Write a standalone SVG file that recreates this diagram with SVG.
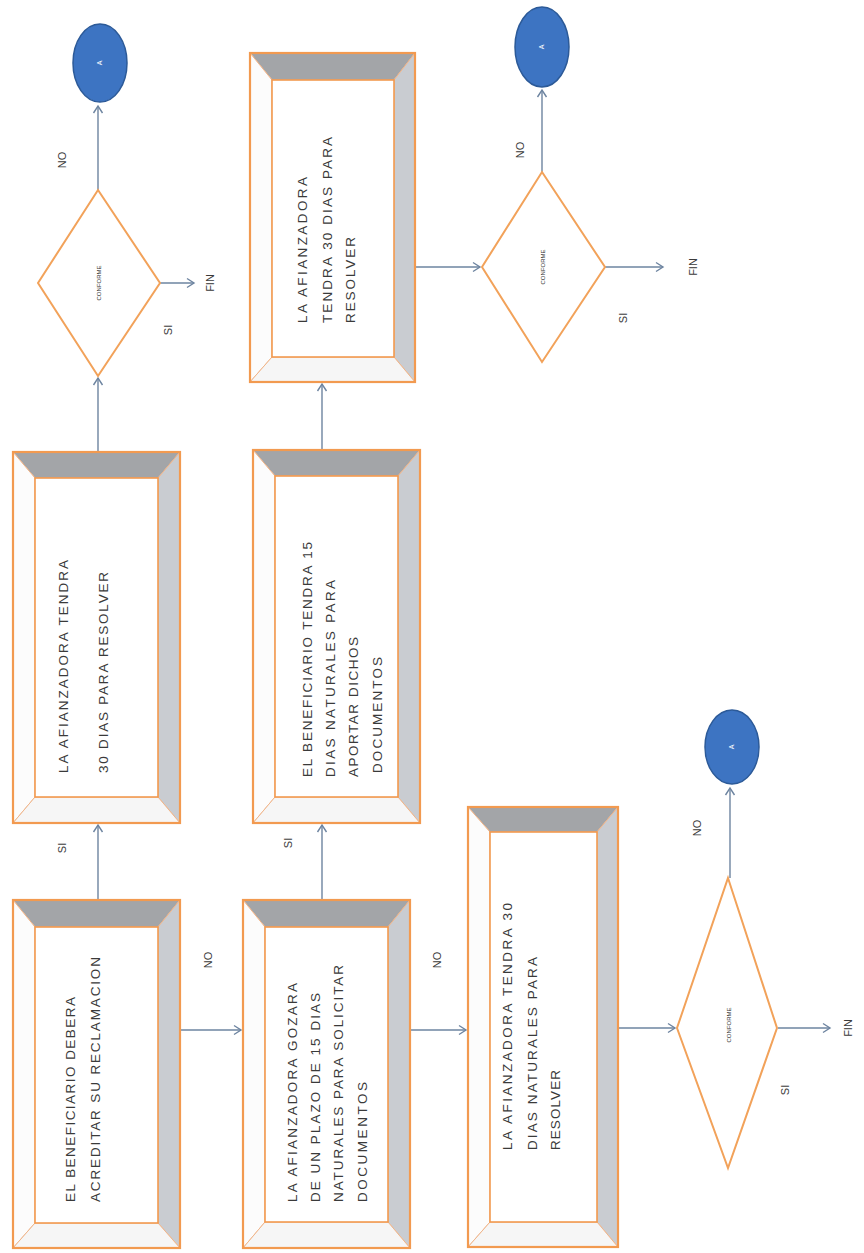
<svg xmlns="http://www.w3.org/2000/svg" width="864" height="1253" viewBox="0 0 864 1253">
<style>
.o{fill:none;stroke:#f29a50;stroke-width:2.2}
.i{fill:#ffffff;stroke:#f29a50;stroke-width:1.6}
.bt{fill:#a3a5a8;stroke:#f0b58a;stroke-width:1}
.br{fill:#c9ccd1;stroke:#f0b58a;stroke-width:1}
.bl{fill:#fcfcfc;stroke:#f0b58a;stroke-width:1}
.bb{fill:#f6f6f6;stroke:#f0b58a;stroke-width:1}
.t{font-family:"Liberation Sans",Arial,sans-serif;font-size:13.5px;fill:#3a3a3a}
.l{font-family:"Liberation Sans",Arial,sans-serif;font-size:11px;fill:#3a3a3a;text-anchor:middle}
.dt{font-family:"Liberation Sans",Arial,sans-serif;font-size:6px;fill:#333;text-anchor:middle}
.ct{font-family:"Liberation Sans",Arial,sans-serif;font-size:7px;fill:#ffffff;text-anchor:middle}
.d{fill:#ffffff;stroke:#f2a25a;stroke-width:2}
.c{fill:#3d74c2;stroke:#2c5a98;stroke-width:1.5}
.e{fill:none;stroke:#6d84a0;stroke-width:1.4}
</style>
<defs>
<marker id="ah" markerWidth="12" markerHeight="12" refX="9" refY="6" orient="auto" markerUnits="userSpaceOnUse">
<path d="M2,1.5 L9,6 L2,10.5" fill="none" stroke="#6d84a0" stroke-width="1.4"/>
</marker>
</defs>
<rect width="864" height="1253" fill="#ffffff"/>

<g id="connectors">
<line class="e" x1="98" y1="900" x2="98" y2="825" marker-end="url(#ah)"/>
<line class="e" x1="98" y1="452" x2="98" y2="378" marker-end="url(#ah)"/>
<line class="e" x1="98" y1="190" x2="98" y2="106" marker-end="url(#ah)"/>
<line class="e" x1="160" y1="283" x2="194" y2="283" marker-end="url(#ah)"/>
<line class="e" x1="180" y1="1030" x2="241" y2="1030" marker-end="url(#ah)"/>
<line class="e" x1="322" y1="900" x2="322" y2="825" marker-end="url(#ah)"/>
<line class="e" x1="322" y1="450" x2="322" y2="384" marker-end="url(#ah)"/>
<line class="e" x1="415" y1="267" x2="480" y2="267" marker-end="url(#ah)"/>
<line class="e" x1="542" y1="172" x2="542" y2="90" marker-end="url(#ah)"/>
<line class="e" x1="605" y1="267" x2="663" y2="267" marker-end="url(#ah)"/>
<line class="e" x1="410" y1="1030" x2="466" y2="1030" marker-end="url(#ah)"/>
<line class="e" x1="618" y1="1028" x2="675" y2="1028" marker-end="url(#ah)"/>
<line class="e" x1="730" y1="878" x2="730" y2="788" marker-end="url(#ah)"/>
<line class="e" x1="778" y1="1028" x2="830" y2="1028" marker-end="url(#ah)"/>
<text class="l" transform="translate(66,848) rotate(-90)">SI</text>
<text class="l" transform="translate(212,960) rotate(-90)">NO</text>
<text class="l" transform="translate(292,843) rotate(-90)">SI</text>
<text class="l" transform="translate(441,960) rotate(-90)">NO</text>
<text class="l" transform="translate(66,160) rotate(-90)">NO</text>
<text class="l" transform="translate(214,283) rotate(-90)">FIN</text>
<text class="l" transform="translate(172,330) rotate(-90)">SI</text>
<text class="l" transform="translate(524,150) rotate(-90)">NO</text>
<text class="l" transform="translate(697,267) rotate(-90)">FIN</text>
<text class="l" transform="translate(627,318) rotate(-90)">SI</text>
<text class="l" transform="translate(701,828) rotate(-90)">NO</text>
<text class="l" transform="translate(852,1028) rotate(-90)">FIN</text>
<text class="l" transform="translate(789,1090) rotate(-90)">SI</text>
</g>

<g id="box1">
<polygon class="bt" points="13,900 180,900 158,927 35,927"/>
<polygon class="br" points="180,900 180,1248 158,1223 158,927"/>
<polygon class="bl" points="13,900 35,927 35,1223 13,1248"/>
<polygon class="bb" points="13,1248 35,1223 158,1223 180,1248"/>
<rect class="i" x="35" y="927" width="123" height="296"/>
<rect class="o" x="13" y="900" width="167" height="348"/>
<text class="t" transform="translate(75,1202) rotate(-90)" textLength="205">EL BENEFICIARIO DEBERA</text>
<text class="t" transform="translate(100,1202) rotate(-90)" textLength="245">ACREDITAR  SU RECLAMACION</text>
</g>

<g id="box2">
<polygon class="bt" points="243,900 410,900 388,927 265,927"/>
<polygon class="br" points="410,900 410,1248 388,1222 388,927"/>
<polygon class="bl" points="243,900 265,927 265,1222 243,1248"/>
<polygon class="bb" points="243,1248 265,1222 388,1222 410,1248"/>
<rect class="i" x="265" y="927" width="123" height="295"/>
<rect class="o" x="243" y="900" width="167" height="348"/>
<text class="t" transform="translate(297,1202) rotate(-90)" textLength="219">LA AFIANZADORA GOZARA</text>
<text class="t" transform="translate(320,1202) rotate(-90)" textLength="209">DE UN PLAZO DE 15 DIAS</text>
<text class="t" transform="translate(343,1202) rotate(-90)" textLength="237">NATURALES  PARA SOLICITAR</text>
<text class="t" transform="translate(367,1202) rotate(-90)" textLength="120">DOCUMENTOS</text>
</g>

<g id="box3">
<polygon class="bt" points="468,807 618,807 597,832 490,832"/>
<polygon class="br" points="618,807 618,1247 597,1222 597,832"/>
<polygon class="bl" points="468,807 490,832 490,1222 468,1247"/>
<polygon class="bb" points="468,1247 490,1222 597,1222 618,1247"/>
<rect class="i" x="490" y="832" width="107" height="390"/>
<rect class="o" x="468" y="807" width="150" height="440"/>
<text class="t" transform="translate(512,1150) rotate(-90)" textLength="247">LA AFIANZADORA TENDRA 30</text>
<text class="t" transform="translate(537,1150) rotate(-90)" textLength="193">DIAS NATURALES  PARA</text>
<text class="t" transform="translate(560,1150) rotate(-90)" textLength="80">RESOLVER</text>
</g>

<g id="box4">
<polygon class="bt" points="13,452 180,452 158,478 35,478"/>
<polygon class="br" points="180,452 180,823 158,797 158,478"/>
<polygon class="bl" points="13,452 35,478 35,797 13,823"/>
<polygon class="bb" points="13,823 35,797 158,797 180,823"/>
<rect class="i" x="35" y="478" width="123" height="319"/>
<rect class="o" x="13" y="452" width="167" height="371"/>
<text class="t" transform="translate(68,773) rotate(-90)" textLength="213">LA AFIANZADORA TENDRA</text>
<text class="t" transform="translate(108,773) rotate(-90)" textLength="201">30 DIAS PARA RESOLVER</text>
</g>

<g id="box5">
<polygon class="bt" points="253,450 420,450 398,476 275,476"/>
<polygon class="br" points="420,450 420,823 398,797 398,476"/>
<polygon class="bl" points="253,450 275,476 275,797 253,823"/>
<polygon class="bb" points="253,823 275,797 398,797 420,823"/>
<rect class="i" x="275" y="476" width="123" height="321"/>
<rect class="o" x="253" y="450" width="167" height="373"/>
<text class="t" transform="translate(312,777) rotate(-90)" textLength="235">EL BENEFICIARIO TENDRA  15</text>
<text class="t" transform="translate(335,777) rotate(-90)" textLength="197">DIAS NATURALES  PARA</text>
<text class="t" transform="translate(358,777) rotate(-90)" textLength="140">APORTAR DICHOS</text>
<text class="t" transform="translate(382,773) rotate(-90)" textLength="116">DOCUMENTOS</text>
</g>

<g id="box6">
<polygon class="bt" points="250,53 415,53 394,80 272,80"/>
<polygon class="br" points="415,53 415,382 394,357 394,80"/>
<polygon class="bl" points="250,53 272,80 272,357 250,382"/>
<polygon class="bb" points="250,382 272,357 394,357 415,382"/>
<rect class="i" x="272" y="80" width="122" height="277"/>
<rect class="o" x="250" y="53" width="165" height="329"/>
<text class="t" transform="translate(307,323) rotate(-90)" textLength="146">LA AFIANZADORA</text>
<text class="t" transform="translate(332,323) rotate(-90)" textLength="186">TENDRA 30 DIAS PARA</text>
<text class="t" transform="translate(355,323) rotate(-90)" textLength="86">RESOLVER</text>
</g>

<g id="decision1">
<polygon class="d" points="98,190 160,283 98,376 38,283"/>
<text class="dt" transform="translate(101,283) rotate(-90)">CONFORME</text>
</g>
<g id="decision2">
<polygon class="d" points="542,172 605,267 542,362 482,267"/>
<text class="dt" transform="translate(545,267) rotate(-90)">CONFORME</text>
</g>
<g id="decision3">
<polygon class="d" points="728,878 777,1028 728,1168 677,1028"/>
<text class="dt" transform="translate(731,1025) rotate(-90)">CONFORME</text>
</g>

<g id="connector-A1">
<ellipse class="c" cx="100" cy="63" rx="27" ry="39"/>
<text class="ct" transform="translate(102,63) rotate(-90)">A</text>
</g>
<g id="connector-A2">
<ellipse class="c" cx="542" cy="47" rx="27" ry="40"/>
<text class="ct" transform="translate(544,47) rotate(-90)">A</text>
</g>
<g id="connector-A3">
<ellipse class="c" cx="732" cy="747" rx="27" ry="37"/>
<text class="ct" transform="translate(734,747) rotate(-90)">A</text>
</g>
</svg>
